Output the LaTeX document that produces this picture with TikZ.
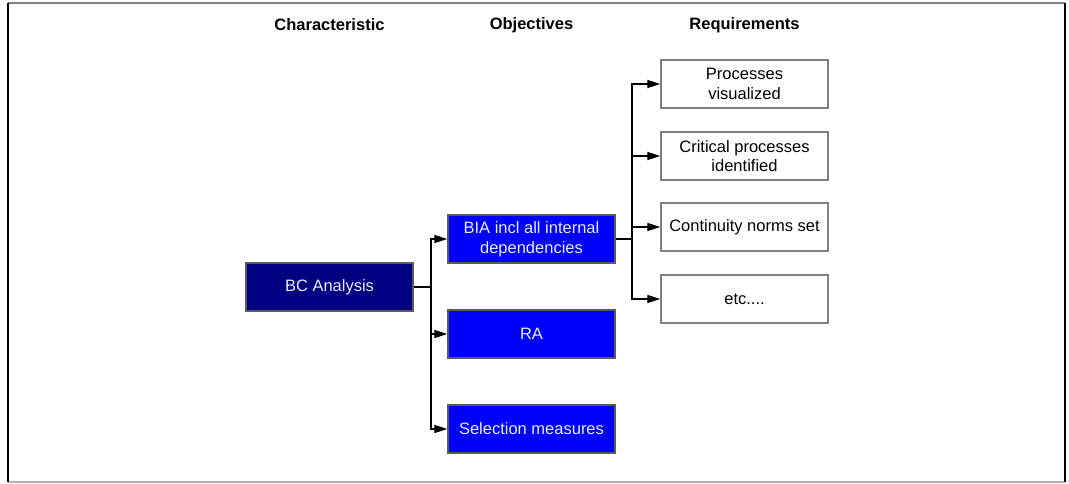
\documentclass[tikz,border=0pt]{standalone}
\usepackage{fontspec}
\setmainfont{Liberation Sans}
\usetikzlibrary{arrows.meta}
\definecolor{navybox}{HTML}{000080}
\definecolor{bluebox}{HTML}{0000FF}
\definecolor{edgegray}{HTML}{808080}
\begin{document}
\begin{tikzpicture}[x=1pt,y=-1pt,
  every node/.style={font=\fontsize{16.5}{19.5}\selectfont, align=center},
  basebox/.style={rectangle, minimum width=167pt, minimum height=48pt, inner sep=0pt, line width=1.3pt},
  charbox/.style={basebox, fill=navybox, draw=edgegray!70!black, text=white!92!blue},
  objbox/.style={basebox, fill=bluebox, draw=edgegray!70!black, text=white!92!blue},
  reqbox/.style={basebox, fill=white, draw=edgegray, text=black},
  heading/.style={font=\fontsize{16.5}{19.5}\selectfont\bfseries},
  link/.style={draw=black, line width=1.2pt},
  arrow/.style={link, -{Triangle[length=13pt,width=8pt]}}]
\useasboundingbox (0,0) rectangle (1069,484);
% outer frame
\draw[edgegray, line width=1.2pt] (8,3) -- (1065,3);
\draw[edgegray!60, line width=1.2pt] (8,482) -- (1065,482);
\draw[black, line width=1.6pt] (8,3) -- (8,482);
\draw[black, line width=1.6pt] (1065,3) -- (1065,482);

% column headings
\node[heading] (hchar) at (329.5,25) {Characteristic};
\node[heading] (hobj) at (531.5,25) {Objectives};
\node[heading] (hreq) at (744.5,25) {Requirements};

% characteristic
\node[charbox] (bc) at (329.5,287) {BC Analysis};

% objectives
\node[objbox] (bia) at (531.5,239) {BIA incl all internal\\dependencies};
\node[objbox] (ra) at (531.5,334) {RA};
\node[objbox] (sel) at (531.5,429) {Selection measures};

% requirements
\node[reqbox] (proc) at (744.5,84) {Processes\\visualized};
\node[reqbox] (crit) at (744.5,156) {Critical processes\\identified};
\node[reqbox] (norm) at (744.5,227) {Continuity norms set};
\node[reqbox] (etc) at (744.5,299) {etc....};

% tree connectors
\coordinate (j1) at (431,287);
\draw[link] (bc.east) -- (j1);
\draw[arrow] (j1) |- (bia.west);
\draw[arrow] (j1) |- (ra.west);
\draw[arrow] (j1) |- (sel.west);

\coordinate (j2) at (632,239);
\draw[link] (bia.east) -- (j2);
\draw[arrow] (j2) |- (proc.west);
\draw[arrow] (j2) |- (crit.west);
\draw[arrow] (j2) |- (norm.west);
\draw[arrow] (j2) |- (etc.west);
\end{tikzpicture}
\end{document}
